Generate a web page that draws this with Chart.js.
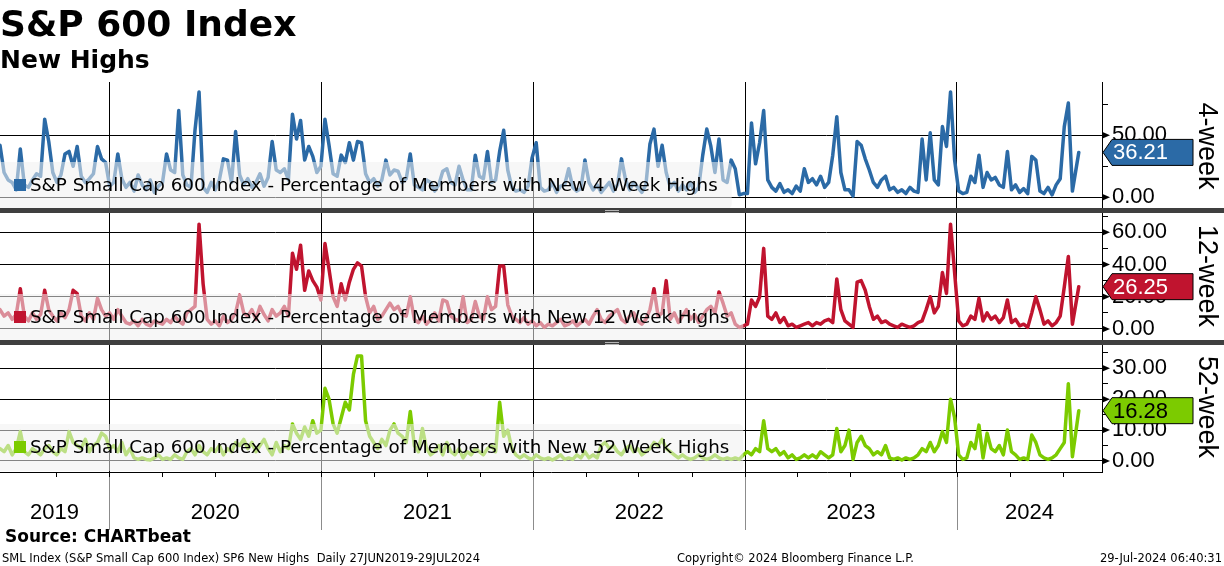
<!DOCTYPE html>
<html>
<head>
<meta charset="utf-8">
<script src="https://cdn.jsdelivr.net/npm/chart.js@4.4.1/dist/chart.umd.min.js"></script>
<style>
  html, body { margin: 0; padding: 0; background: #fff; }
  #wrap { position: relative; width: 1224px; height: 566px; overflow: hidden; }
  #c { position: absolute; left: 0; top: 0; }
  .t { position: absolute; white-space: nowrap; color: #000; }
  .small { font: 11.5px/14px 'DejaVu Sans', sans-serif; top: 551px; }
</style>
</head>
<body>
<div id="wrap">
  <canvas id="c" width="1224" height="566"></canvas>
  <div class="t" style="left:0;top:6px;font:bold 36px/36px 'DejaVu Sans',sans-serif">S&amp;P 600 Index</div>
  <div class="t" style="left:0;top:47px;font:bold 25px/25px 'DejaVu Sans',sans-serif">New Highs</div>
  <div class="t" style="left:5px;top:528px;font:bold 17px/17px 'DejaVu Sans',sans-serif">Source: CHARTbeat</div>
  <div class="t small" style="left:2px">SML Index (S&amp;P Small Cap 600 Index) SP6 New Highs&nbsp; Daily 27JUN2019-29JUL2024</div>
  <div class="t small" style="left:677px">Copyright© 2024 Bloomberg Finance L.P.</div>
  <div class="t small" style="right:2px">29-Jul-2024 06:40:31</div>
</div>
<script>
// weekly readings (every 7 days from 27 Jun 2019), last point = 29 Jul 2024
const startDate = Date.UTC(2019, 5, 27);
const lastDate = Date.UTC(2024, 6, 29);
const axisEndDate = Date.UTC(2024, 8, 7);

const years = ['2019', '2020', '2021', '2022', '2023', '2024'];

// % of members with new 4 week highs
const high4w = [
  42, 20, 14, 12, 6, 39, 10, 8, 14, 19,
  17, 63, 45, 20, 12, 18, 35, 37, 25, 41,
  17, 12, 15, 19, 41, 31, 28, 9, 12, 35,
  15, 8, 12, 5, 18, 10, 6, 14, 4, 9,
  12, 35, 22, 20, 70, 18, 10, 8, 54, 85,
  8, 4, 12, 6, 14, 31, 30, 12, 53, 18,
  10, 15, 8, 12, 19, 9, 16, 45, 22, 20,
  23, 14, 67, 47, 62, 30, 41, 33, 20, 25,
  63, 42, 19, 17, 34, 28, 44, 30, 45, 44,
  19, 12, 15, 9, 14, 30, 18, 22, 21, 12,
  15, 35, 10, 8, 6, 14, 12, 5, 10, 21,
  23, 12, 10, 25, 14, 6, 6, 34, 17, 15,
  37, 12, 14, 37, 54, 22, 8, 5, 6, 4,
  9, 32, 44, 8, 5, 6, 12, 4, 9, 10,
  23, 8, 5, 7, 30, 12, 6, 10, 4, 8,
  12, 5, 10, 31, 14, 6, 12, 8, 4, 10,
  43, 55, 25, 42, 20, 8, 12, 5, 10, 6,
  12, 4, 8, 34, 55, 41, 20, 47, 14, 12,
  30, 23, 2, 3, 3, 60, 27, 44, 70, 14,
  8, 5, 11, 4, 6, 3, 9, 5, 23, 12,
  15, 10, 17, 8, 12, 34, 65, 20, 6, 6,
  1, 45, 42, 31, 22, 12, 8, 14, 17, 6,
  8, 4, 6, 3, 8, 5, 4, 47, 14, 52,
  14, 10, 57, 41, 85, 30, 5, 3, 4, 17,
  12, 34, 8, 20, 14, 16, 10, 8, 37, 6,
  10, 4, 7, 3, 33, 30, 5, 3, 8, 2,
  10, 15, 57, 76, 5, 36.21
];

// % of members with new 12 week highs
const high12w = [
  12, 8, 10, 6, 9, 25, 8, 5, 10, 6,
  9, 24, 12, 8, 5, 10, 7, 12, 24, 22,
  8, 5, 10, 6, 19, 12, 8, 10, 6, 12,
  8, 4, 3, 5, 2, 6, 3, 2, 5, 4,
  3, 6, 4, 8, 5, 3, 10, 12, 14, 65,
  28, 6, 3, 5, 2, 8, 4, 6, 10, 21,
  10, 8, 12, 6, 14, 9, 5, 12, 8, 10,
  14, 8, 47, 37, 52, 24, 36, 30, 26, 18,
  53, 37, 20, 14, 28, 18, 29, 37, 41, 39,
  20, 10, 14, 6, 8, 12, 16, 12, 14, 9,
  8, 20, 6, 4, 8, 3, 6, 10, 5, 18,
  17, 8, 6, 5, 20, 4, 6, 17, 8, 6,
  20, 12, 14, 39, 39, 15, 8, 6, 4, 7,
  3, 5, 2, 4, 1, 3, 2, 4, 6, 2,
  3, 5, 2, 4, 6, 3, 8, 12, 6, 4,
  8, 10, 12, 6, 4, 8, 10, 5, 3, 6,
  12, 25, 8, 10, 30, 6, 10, 4, 8, 12,
  6, 9, 4, 8, 12, 14, 10, 23, 16, 8,
  10, 3, 1, 2, 3, 18, 14, 20, 50, 8,
  6, 10, 4, 7, 2, 3, 1, 2, 3, 4,
  2, 4, 3, 5, 6, 4, 31, 12, 5, 3,
  1, 29, 30, 24, 14, 6, 8, 4, 5, 3,
  2, 1, 3, 2, 1, 2, 4, 5, 12, 20,
  10, 14, 35, 22, 65, 35, 5, 2, 3, 8,
  6, 19, 5, 10, 6, 8, 4, 7, 18, 4,
  6, 2, 3, 1, 10, 20, 12, 3, 5, 2,
  4, 8, 26, 45, 3, 26.25
];

// % of members with new 52 week highs
const high52w = [
  4, 3, 5, 2, 4, 9.5, 3, 2, 4, 3,
  2, 4, 5, 3, 2, 4, 3, 9.5, 6, 5,
  4, 7, 3, 5, 6, 9, 8, 4, 5, 3,
  6, 2, 4, 1, 0.5, 1, 0.5, 0.3, 1, 2,
  0.5, 1, 0.5, 2, 1, 0.5, 3, 4, 2, 5,
  3, 2, 4, 3, 5, 2, 4, 3, 6, 5,
  7, 4, 6, 3, 5, 7, 4, 2, 6, 3,
  5, 4, 12, 9, 7, 11, 8, 13, 9, 10,
  23.5, 20, 12, 9, 14, 19, 16.5, 28, 34, 34,
  13, 8, 6, 4, 7, 5, 10, 12, 9, 8,
  6, 16, 5, 3, 10.5, 4, 2, 3, 5, 2,
  6, 3, 2, 4, 1, 3, 2, 4, 3, 2,
  4, 5, 3, 19, 8, 10, 4, 2, 1, 2,
  1, 0.5, 2, 1, 0.5, 1, 0.3, 1, 2, 0.5,
  1, 0.5, 2, 1, 3, 1, 2, 1, 5, 6,
  4, 5, 3, 2, 4, 5, 3, 4, 2, 3,
  4, 6, 5, 7, 4, 3, 2, 1, 2, 1,
  0.5, 1, 2, 1, 0.5, 1, 2, 1, 0.5, 1,
  0.5, 1, 0.5, 2, 3, 2, 4, 3, 13, 4,
  3, 4, 2, 3, 1, 2, 0.5, 1, 2, 1,
  2, 1, 3, 2, 1, 2, 10.5, 3, 5, 10,
  0.5, 6, 8, 5, 4, 2, 3, 2, 5, 1,
  0.5, 1, 0.3, 1, 0.5, 1, 2, 4, 3, 6,
  3, 5, 9.5, 6, 20, 14, 2, 0.5, 1, 6,
  4, 11.6, 1, 9, 4, 3, 5, 2, 10, 3,
  2, 0.5, 1, 0.5, 8.4, 6, 2, 1, 0.5, 1,
  2, 4, 6, 25, 1.4, 16.28
];

const ticks4w = [0, 25, 50, 75];
const ticks12w = [0, 10, 20, 30, 40, 50, 60, 70];
const ticks52w = [0, 5, 10, 15, 20, 25, 30, 35];

const DAY = 86400000;
const dayOf = t => Math.round((t - startDate) / DAY);
const toPoints = vals => vals.map((v, i) => ({ x: i === vals.length - 1 ? dayOf(lastDate) : i * 7, y: v }));

const BLUE = '#2b6aa6', RED = '#c0142f', GREEN = '#7ccb00';
const LABEL_FONT = "'Liberation Sans'";

const panels = [
  { id: 'p1', name: '4-week', values: high4w, ticks: ticks4w, major: 50, color: BLUE, tagText: '#fff',
    min: -10.24, max: 92.98, weight: 128,
    legend: 'S&P Small Cap 600 Index - Percentage of Members with New 4 Week Highs' },
  { id: 'p2', name: '12-week', values: high12w, ticks: ticks12w, major: 20, color: RED, tagText: '#fff',
    min: -8.07, max: 73.8, weight: 132,
    legend: 'S&P Small Cap 600 Index - Percentage of Members with New 12 Week Highs' },
  { id: 'p3', name: '52-week', values: high52w, ticks: ticks52w, major: 10, color: GREEN, tagText: '#000',
    min: -3.56, max: 38.5, weight: 130,
    legend: 'S&P Small Cap 600 Index - Percentage of Members with New 52 Week Highs' }
];

// x axis: year boundaries get a grid line, year labels sit in the middle of each span
const yearStarts = years.slice(1).map(y => dayOf(Date.UTC(+y, 0, 1)));
const axisEnd = dayOf(axisEndDate);
const spanEdges = [0, ...yearStarts, axisEnd];
const yearMids = years.map((y, i) => (spanEdges[i] + spanEdges[i + 1]) / 2);
const quarterDays = [];
for (let y = 2019; y <= 2024; y++) {
  [0, 3, 6, 9].forEach(m => {
    const d = dayOf(Date.UTC(y, m, 1));
    if (d > 30 && d < axisEnd) quarterDays.push(d);
  });
}

const scales = {
  x: {
    type: 'linear', min: 0, max: axisEnd,
    border: { display: true, color: '#000', width: 1 },
    grid: {
      drawTicks: false, lineWidth: 1,
      color: c => (c.tick && yearStarts.includes(c.tick.value)) ? '#000' : 'rgba(0,0,0,0)'
    },
    ticks: {
      autoSkip: false, maxRotation: 0, minRotation: 0, padding: 28, color: '#000',
      font: { family: LABEL_FONT, size: 22 },
      callback: v => { const k = yearMids.indexOf(v); return k >= 0 ? years[k] : ''; }
    },
    afterBuildTicks: s => { s.ticks = [...yearStarts, ...yearMids].sort((a, b) => a - b).map(v => ({ value: v })); },
    afterFit: s => { s.height = 60; }
  }
};

panels.forEach(p => {
  scales[p.id] = {
    type: 'linear', position: 'right', stack: 'panels', stackWeight: p.weight,
    min: p.min, max: p.max,
    afterBuildTicks: s => { s.ticks = p.ticks.map(v => ({ value: v })); },
    afterFit: s => { s.width = 122; },
    border: { display: true, color: '#000', width: 1 },
    grid: {
      lineWidth: 1, tickLength: 6,
      color: c => (c.tick && c.tick.value % p.major === 0) ? '#000' : 'rgba(0,0,0,0)',
      tickColor: c => (c.tick && c.tick.value % p.major === 0) ? 'rgba(0,0,0,0)' : '#000'
    },
    ticks: {
      autoSkip: false, padding: 4, color: '#000', font: { family: LABEL_FONT, size: 22 },
      callback: v => v % p.major === 0 ? v.toFixed(2) : ''
    },
    title: {
      display: true, text: p.name, color: '#000',
      font: { family: LABEL_FONT, size: 27 }, padding: { top: 1, bottom: 0 }
    }
  };
});

const decor = {
  id: 'decor',
  afterDatasetsDraw(chart) {
    const ctx = chart.ctx;
    panels.forEach(p => {
      const s = chart.scales[p.id];
      ctx.save();
      ctx.font = "18.3px 'DejaVu Sans'";
      const w = ctx.measureText(p.legend).width;
      const top = s.bottom - 48;
      ctx.fillStyle = 'rgba(240,240,240,0.55)';
      ctx.beginPath();
      ctx.roundRect(-6, top, 30 + w + 14 + 6, 47, 5);
      ctx.fill();
      ctx.fillStyle = p.color;
      ctx.fillRect(14, top + 17, 12, 12);
      ctx.fillStyle = '#000';
      ctx.textBaseline = 'middle';
      ctx.fillText(p.legend, 30, top + 24);
      ctx.restore();
    });
  },
  afterDraw(chart) {
    const ctx = chart.ctx;
    const area = chart.chartArea;
    const xs = chart.scales.x;
    ctx.save();
    // year separators and quarter ticks under the plot
    ctx.strokeStyle = '#8c8c8c';
    ctx.lineWidth = 1;
    yearStarts.forEach(d => {
      const x = Math.round(xs.getPixelForValue(d)) + 0.5;
      ctx.beginPath(); ctx.moveTo(x, area.bottom + 1); ctx.lineTo(x, area.bottom + 58); ctx.stroke();
    });
    ctx.strokeStyle = '#000';
    quarterDays.forEach(d => {
      const x = Math.round(xs.getPixelForValue(d)) + 0.5;
      ctx.beginPath(); ctx.moveTo(x, area.bottom); ctx.lineTo(x, area.bottom + 5); ctx.stroke();
    });
    panels.forEach((p, k) => {
      const s = chart.scales[p.id];
      // arrows on labelled ticks
      ctx.fillStyle = '#000';
      p.ticks.filter(v => v % p.major === 0).forEach(v => {
        const y = s.getPixelForValue(v);
        ctx.beginPath();
        ctx.moveTo(area.right, y - 3.5); ctx.lineTo(area.right + 8, y); ctx.lineTo(area.right, y + 3.5);
        ctx.closePath(); ctx.fill();
      });
      // last value tag
      const last = p.values[p.values.length - 1];
      const y = s.getPixelForValue(last);
      ctx.beginPath();
      ctx.moveTo(area.right + 1, y);
      ctx.lineTo(area.right + 10, y - 13);
      ctx.lineTo(area.right + 91, y - 13);
      ctx.lineTo(area.right + 91, y + 13);
      ctx.lineTo(area.right + 10, y + 13);
      ctx.closePath();
      ctx.fillStyle = p.color; ctx.fill();
      ctx.strokeStyle = '#000'; ctx.lineWidth = 1; ctx.stroke();
      ctx.fillStyle = p.tagText;
      ctx.font = "22px 'Liberation Sans'";
      ctx.textBaseline = 'middle';
      ctx.textAlign = 'left';
      ctx.fillText(last.toFixed(2), area.right + 11, y + 1);
      // separator bar below the panel
      if (k < panels.length - 1) {
        ctx.fillStyle = '#3f3f3f';
        ctx.fillRect(0, s.bottom - 2, chart.width, 5);
        ctx.strokeStyle = '#b5b5b5';
        ctx.beginPath();
        ctx.moveTo(605, s.bottom + 0.5); ctx.lineTo(619, s.bottom + 0.5);
        ctx.moveTo(605, s.bottom + 2.5); ctx.lineTo(619, s.bottom + 2.5);
        ctx.stroke();
      }
    });
    ctx.restore();
  }
};

new Chart(document.getElementById('c'), {
  type: 'line',
  data: {
    datasets: panels.map(p => ({
      data: toPoints(p.values),
      yAxisID: p.id,
      borderColor: p.color,
      borderWidth: 3.5,
      borderJoinStyle: 'round',
      borderCapStyle: 'round',
      pointRadius: 0,
      tension: 0,
      fill: false
    }))
  },
  options: {
    responsive: false,
    animation: false,
    events: [],
    layout: { padding: { top: 82, bottom: 34, left: 0, right: 0 } },
    plugins: { legend: { display: false }, tooltip: { enabled: false } },
    scales: scales
  },
  plugins: [decor]
});
</script>
</body>
</html>
